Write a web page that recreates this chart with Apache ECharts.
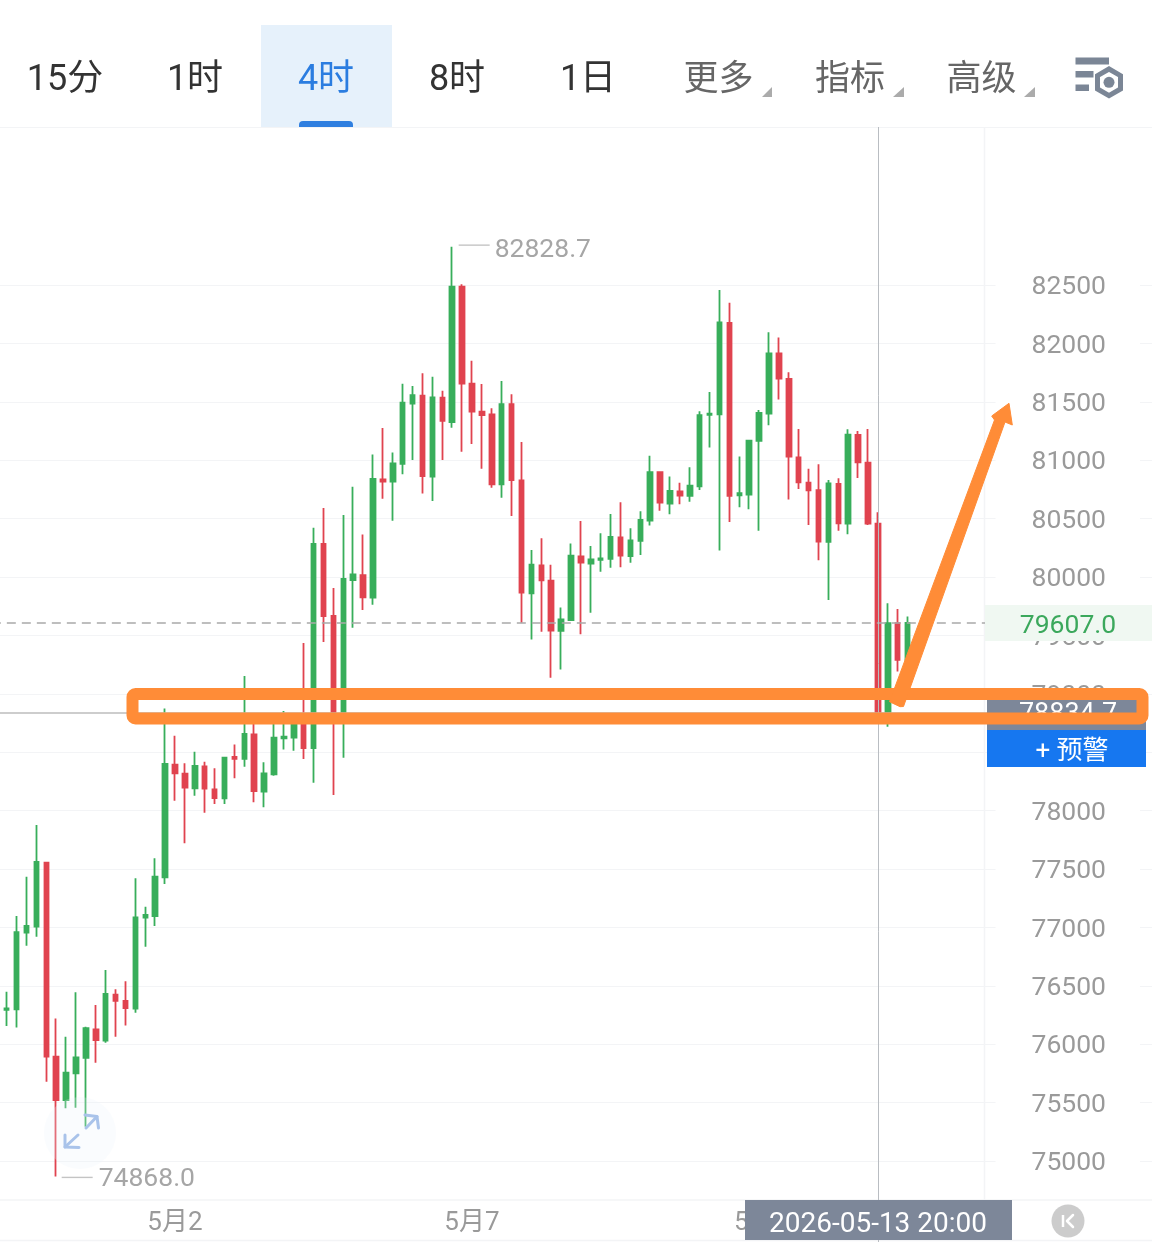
<!DOCTYPE html>
<html><head><meta charset="utf-8">
<style>html,body{margin:0;padding:0;background:#fff}#c{width:1152px;height:1242px}</style>
<script src="https://cdn.jsdelivr.net/npm/echarts@6/dist/echarts.min.js"></script>
</head><body><div id="c"></div>
<script>
const opens=[76295,76298,76955,77006,77554,75893,75522,75750,75884,76127,76030,76424,76370,76304,77083,77097,77428,78393,78316,78190,78379,78182,78105,78459,78444,78653,78162,78310,78619,78624,78759,78536,80283,79666,78836,79974,80017,79823,80836,80816,80968,81484,81553,80859,81535,81327,82486,81655,81416,81393,80793,81481,80828,79860,80100,79968,79538,79632,80177,80114,80148,80155,80340,80180,80309,80483,80897,80628,80734,80694,80777,81388,81393,82175,80700,80705,81165,81399,81915,81696,81025,80808,80743,80300,80797,80457,81216,80979,80457,78827,79604,79290];
const closes=[76307,76960,77012,77560,75893,75522,75756,75887,76138,76036,76430,76372,76310,77086,77106,77434,78399,78319,78196,78382,78188,78108,78453,78444,78656,78168,78319,78624,78633,78733,78536,80283,79666,78844,79983,80023,79826,80839,80816,80973,81493,81558,80865,81538,81336,82486,81655,81416,81387,80793,81481,80830,79866,80106,79971,79541,79638,80183,80123,80151,80160,80343,80183,80314,80488,80897,80637,80737,80697,80782,81385,81399,82181,80694,80717,81168,81405,81915,81699,81031,80811,80743,80303,80802,80460,81219,80982,80457,78836,79604,79290,79607];
const lows=[76156,76144,76843,76920,75679,74868,75451,75456,75294,75842,76013,76064,76161,76270,76835,77012,77371,78085,77720,78128,77982,78056,78056,78276,78376,78071,78028,78299,78524,78513,78442,78239,79444,78134,78453,79566,79717,79763,80671,80482,80879,81002,80716,80651,81002,81279,81073,81139,80928,80765,80679,80522,79609,79466,79532,79138,79209,79626,79509,79695,80046,80080,80083,80123,80189,80440,80568,80537,80623,80645,80745,81108,80226,80471,80597,80580,80397,81299,81519,80663,80754,80446,80143,79804,80397,80366,80848,80446,78793,78719,79190,79261];
const highs=[76450,77097,77434,77877,77563,76221,76064,76444,76150,76335,76635,76470,76538,77420,77177,77591,78875,78641,78405,78504,78419,78362,78456,78567,79152,78747,78413,78747,78853,78833,79435,80422,80591,79906,80531,80773,80365,81050,81276,81067,81655,81635,81744,81715,81595,82828.7,82506,81852,81652,81444,81678,81564,81156,80231,80331,80106,79740,80288,80479,80265,80374,80540,80640,80417,80563,81039,80902,80860,80808,80939,81419,81584,82458,82349,81031,81173,81430,82095,82050,81753,81268,80928,80965,80831,80845,81265,81251,81268,80554,79775,79726,79661];
const firstBarTime='2026-04-29 04:00';
const yTickValues=[75000,75500,76000,76500,77000,77500,78000,78500,79000,79500,80000,80500,81000,81500,82000,82500];
const xTickLabels={'2026-05-02 00:00':'5月2','2026-05-07 00:00':'5月7','2026-05-12 00:00':'5月12'};
const lastPrice=79607.0, markedPrice=78834.7, highPrice=82828.7, lowPrice=74868.0;
const crossTime='2026-05-13 20:00';
const periods=['15分','1时','4时','8时','1日'];
const menus=['更多','指标','高级'];

function pad(n){return String(n).padStart(2,'0');}
function fmt(d){return d.getUTCFullYear()+'-'+pad(d.getUTCMonth()+1)+'-'+pad(d.getUTCDate())+' '+pad(d.getUTCHours())+':'+pad(d.getUTCMinutes());}
const t0=Date.parse(firstBarTime.replace(' ','T')+':00Z');
const categories=[];
for(let i=-1;i<117;i++)categories.push(fmt(new Date(t0+i*4*3600*1000)));
const candles=[['-','-','-','-']].concat(opens.map((o,i)=>[o,closes[i],lows[i],highs[i]]));

const FF='Roboto,"Noto Sans CJK SC",sans-serif';
const GREEN='#38AE5B',RED='#E0434F',ORANGE='#FF8C37',GREY='#7D8799',LINE='#F3F4F6';
const txt=(text,x,y,size,fill,z)=>({type:'text',z:z||100,style:{text,x,y:y+3.5,font:size+'px '+FF,fill,align:'center',verticalAlign:'middle'}});
const rect=(x,y,w,h,fill,z,r)=>({type:'rect',z:z||50,shape:{x,y,width:w,height:h,r:r||0},style:{fill}});
const seg=(x1,y1,x2,y2,stroke,w,z)=>({type:'line',z:z||5,shape:{x1,y1,x2,y2},style:{stroke,lineWidth:w}});
const poly=(points,stroke,w,z)=>({type:'polyline',z:z||100,shape:{points},style:{stroke,lineWidth:w,fill:'none',lineCap:'round',lineJoin:'round'}});
const tri=(a,b,c,fill)=>({type:'polygon',z:100,shape:{points:[a,b,c]},style:{fill}});

const graphic=[
 rect(261,25,131,102,'#E6F1FB',40),
 rect(299,121,54,6,'#2F7FE0',41,[4,4,0,0]),
 txt(periods[0],65,77,36,'#333333'),
 txt(periods[1],195,77,36,'#333333'),
 txt(periods[2],326,77,36,'#2B7DE0'),
 txt(periods[3],457,77,36,'#333333'),
 txt(periods[4],588,77,36,'#333333'),
 txt(menus[0],718.5,77.5,35,'#666666'),
 txt(menus[1],850,77.5,35,'#666666'),
 txt(menus[2],981.5,77.5,35,'#666666'),
 tri([772,87],[772,97],[762,97],'#ABABAB'),
 tri([904,87],[904,97],[893,97],'#ABABAB'),
 tri([1035,87],[1035,97],[1024,97],'#ABABAB'),
 rect(1075.5,57.5,33.5,7,'#7B8696',100),
 rect(1075.5,71,18,6.5,'#7B8696',100),
 rect(1075.5,84.5,13.5,6.5,'#7B8696',100),
 {type:'polygon',z:100,shape:{points:[[1109,69],[1120.5,75.7],[1120.5,89],[1109,95.7],[1097.5,89],[1097.5,75.7]]},style:{fill:'#fff',stroke:'#7B8696',lineWidth:5}},
 {type:'circle',z:101,shape:{cx:1109,cy:82.3,r:5.5},style:{fill:'#7B8696'}},
 seg(0,127.5,1152,127.5,LINE,1,1),
 seg(984.5,127,984.5,1200,LINE,1.5,1),
 seg(0,1240.5,1152,1240.5,LINE,1.5,1),
 seg(878.5,1240,878.5,1242,'#B9BDC2',1,60),
 rect(985,605,167,36,'#F0F8F2',50),
 txt('79607.0',1068,622.5,26.5,'#3BA85C',51),
 rect(987,698,159,32,GREY,50),
 txt('78834.7',1068,712,27,'#FFFFFF',51),
 rect(987,730,159,37,'#1677F0',50),
 txt('+ 预警',1072,749,26,'#FFFFFF',51),
 rect(745,1200,267,40,GREY,50),
 txt(crossTime,878,1221,28,'#FFFFFF',51),
 {type:'circle',z:50,shape:{cx:1068,cy:1221,r:16.5},style:{fill:'#CCCCCC'}},
 seg(1063,1215,1063,1227,'#FFFFFF',2.5,51),
 poly([[1073,1215],[1067,1221],[1073,1227]],'#FFFFFF',2.5,51),
 {type:'circle',z:60,shape:{cx:80,cy:1133,r:36},style:{fill:'rgba(236,243,252,0.25)'}},
 poly([[85,1115],[97,1116.5],[98.5,1128]],'#A9C3EA',3,61),
 poly([[97,1116.5],[86,1128]],'#A9C3EA',3,61),
 poly([[65,1135],[65,1147],[79,1147.5]],'#A9C3EA',3,61),
 poly([[65,1147],[78,1135]],'#A9C3EA',3,61),
 {type:'rect',z:70,shape:{x:132.5,y:694,width:1010,height:24.5,r:3},style:{fill:'none',stroke:ORANGE,lineWidth:12}},
 {type:'polygon',z:71,shape:{points:[[889.5,701.7],[994.5,420],[991.7,416],[1009,403.3],[1012.3,425],[1005,422],[903.5,706.5],[900,706.7]]},style:{fill:ORANGE,stroke:ORANGE,lineWidth:1,lineJoin:'round'}}
];

const option={
 animation:false,
 backgroundColor:'#ffffff',
 grid:{left:-8.18,right:-8,top:127,bottom:42,containLabel:false,outerBoundsMode:'none'},
 xAxis:{type:'category',data:categories,boundaryGap:true,
  axisLine:{show:true,lineStyle:{color:LINE,width:1.5}},axisTick:{show:false},splitLine:{show:false},
  axisLabel:{show:true,interval:(i,v)=>v in xTickLabels,formatter:v=>xTickLabels[v]||'',fontSize:26,fontFamily:FF,color:'#9A9A9A',margin:10,hideOverlap:false}},
 yAxis:{type:'value',position:'right',min:74666,max:83853,
  axisLine:{show:false},
  axisTick:{show:false,customValues:yTickValues},
  splitLine:{show:true,lineStyle:{color:LINE,width:1.2}},
  axisLabel:{show:true,inside:true,customValues:yTickValues,formatter:v=>'{a|'+v+'}',fontSize:26.5,fontFamily:FF,color:'#9A9A9A',margin:20,
   backgroundColor:'#ffffff',padding:[0,34,0,36],
   rich:{a:{fontSize:26.5,fontFamily:FF,color:'#9A9A9A',padding:[5,0,0,0]}}}},
 series:[{type:'candlestick',data:candles,barWidth:5,clip:true,
  itemStyle:{color:GREEN,color0:RED,borderColor:GREEN,borderColor0:RED,borderWidth:1.8},
  markLine:{silent:true,symbol:'none',animation:false,label:{show:false},
   data:[
    {yAxis:lastPrice,lineStyle:{color:'#A9A9A9',width:1.5,type:[9,6]}},
    [{xAxis:categories[0],yAxis:markedPrice,lineStyle:{color:'#BDBDBD',width:1.5,type:'solid'}},{xAxis:categories[101],yAxis:markedPrice}],
    {xAxis:crossTime,lineStyle:{color:'#B9BDC2',width:1,type:'solid'}}
   ]},
  markPoint:{silent:true,animation:false,data:[
    {coord:[categories[46],highPrice],value:highPrice,symbol:'rect',symbolSize:[31,1.4],symbolOffset:[22,-1.5],itemStyle:{color:'#C4C4C4'},
     label:{show:true,position:'right',distance:6,formatter:'82828.7',fontSize:26.5,fontFamily:FF,color:'#A6A6A6',offset:[-1,5]}},
    {coord:[categories[6],lowPrice],value:lowPrice,symbol:'rect',symbolSize:[31,1.4],symbolOffset:[21,1],itemStyle:{color:'#C4C4C4'},
     label:{show:true,position:'right',distance:6,formatter:'74868.0',fontSize:26.5,fontFamily:FF,color:'#A6A6A6',offset:[0,2]}}
  ]}
 }],
 graphic:{elements:graphic}
};
echarts.init(document.getElementById('c'),null,{renderer:'canvas'}).setOption(option);
</script></body></html>
